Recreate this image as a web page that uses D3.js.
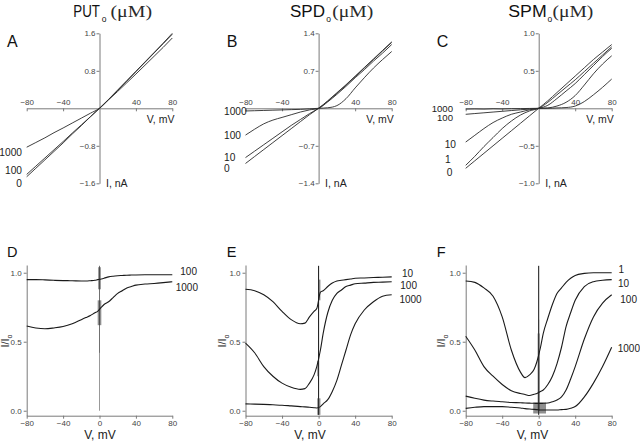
<!DOCTYPE html>
<html><head><meta charset="utf-8">
<script src="https://cdn.jsdelivr.net/npm/d3@7"></script>
<style>body{margin:0;background:#fff}svg{display:block}</style>
</head><body><svg id="c" width="640" height="442"></svg>
<script>
// ---------- DATA ----------
// I-V relations (top row), voltage in mV, current in nA
const V_IV = [-80,-70,-60,-50,-40,-30,-20,-10,0,10,20,30,40,50,60,70,80];
const PUT_0    = [-1.46,-1.28,-1.10,-0.92,-0.74,-0.55,-0.37,-0.18,0,0.19,0.39,0.59,0.79,0.99,1.19,1.39,1.60];
const PUT_100  = [-1.41,-1.235,-1.06,-0.885,-0.71,-0.53,-0.355,-0.18,0,0.19,0.385,0.58,0.78,0.98,1.18,1.38,1.58];
const PUT_1000 = [-0.83,-0.73,-0.63,-0.52,-0.42,-0.315,-0.21,-0.105,0,0.18,0.36,0.545,0.73,0.92,1.11,1.30,1.50];
const SPD_0    = [-1.03,-0.90,-0.77,-0.64,-0.51,-0.38,-0.25,-0.12,0,0.14,0.29,0.44,0.60,0.76,0.92,1.08,1.24];
const SPD_10   = [-0.92,-0.80,-0.68,-0.56,-0.44,-0.32,-0.21,-0.10,0,0.13,0.28,0.43,0.59,0.75,0.91,1.07,1.23];
const SPD_100  = [-0.50,-0.39,-0.29,-0.22,-0.17,-0.12,-0.07,-0.03,0,0.12,0.26,0.41,0.57,0.72,0.88,1.03,1.19];
const SPD_1000 = [-0.05,-0.045,-0.04,-0.035,-0.03,-0.025,-0.02,-0.01,0,0.01,0.05,0.18,0.38,0.57,0.75,0.91,1.06];
const SPM_0    = [-0.80,-0.70,-0.60,-0.50,-0.40,-0.30,-0.20,-0.10,0,0.10,0.21,0.32,0.43,0.54,0.65,0.75,0.85];
const SPM_1    = [-0.76,-0.64,-0.51,-0.39,-0.27,-0.17,-0.09,-0.035,0,0.08,0.18,0.28,0.38,0.49,0.60,0.71,0.82];
const SPM_10   = [-0.45,-0.36,-0.27,-0.19,-0.13,-0.08,-0.05,-0.02,0,0.04,0.13,0.23,0.33,0.45,0.57,0.69,0.80];
const SPM_100  = [-0.08,-0.07,-0.06,-0.05,-0.04,-0.03,-0.02,-0.01,0,0.005,0.03,0.08,0.17,0.31,0.46,0.59,0.70];
const SPM_1000 = [-0.01,-0.008,-0.01,-0.006,-0.008,-0.005,-0.004,-0.002,0,0,0.005,0.01,0.03,0.09,0.18,0.28,0.39];
const IV_YMAX = [1.6, 1.4, 1.0];

// Fractional current I/Io (bottom row)
const V_FR = [-80,-70,-60,-50,-40,-30,-20,-15,-10,-5,-2,2,5,10,15,20,25,30,35,40,50,60,70,80];
const PUT_R100  = [.95,.95,.948,.945,.943,.942,.94,.94,.942,.945,.95,.955,.96,.97,.975,.978,.98,.982,.983,.984,.985,.985,.985,.985];
const PUT_R1000 = [.614,.60,.594,.60,.61,.63,.66,.675,.69,.71,.72,.75,.77,.79,.82,.85,.87,.89,.90,.91,.918,.922,.928,.935];
const SPD_R10   = [.88,.87,.84,.79,.72,.66,.63,.635,.68,.72,.74,.86,.87,.90,.925,.94,.945,.95,.955,.96,.962,.965,.967,.97];
const SPD_R100  = [.49,.42,.32,.25,.20,.17,.155,.16,.20,.26,.32,.44,.56,.71,.80,.85,.875,.90,.91,.92,.925,.93,.932,.935];
const SPD_R1000 = [.05,.048,.046,.043,.04,.035,.03,.028,.025,.022,.02,.03,.05,.08,.14,.22,.33,.44,.55,.63,.73,.79,.83,.84];
const SPM_R1    = [.94,.93,.89,.83,.68,.44,.28,.24,.26,.30,.355,.46,.56,.67,.77,.85,.89,.93,.96,.98,.995,1.0,1.0,1.0];
const SPM_R10   = [.54,.44,.32,.25,.19,.145,.125,.118,.11,.12,.125,.14,.15,.19,.25,.34,.46,.61,.71,.80,.90,.935,.945,.95];
const SPM_R100  = [.106,.09,.077,.07,.065,.06,.058,.056,.055,.054,.053,.053,.054,.056,.065,.077,.10,.15,.23,.32,.52,.68,.78,.84];
const SPM_R1000 = [.017,.025,.03,.03,.03,.025,.02,.015,.012,.01,.008,.005,.005,.005,.005,.005,.008,.01,.018,.03,.10,.20,.32,.46];

// Noise bursts near 0 mV per bottom panel: [vFrom, vTo, lo, hi] (I/Io)
const NOISE_D = [[-1.5,1.5,0.88,1.04],[-2,2,0.62,0.8],[-0.4,0.4,0.42,1.05]];
const NOISE_E = [[-0.5,2,0.80,0.95],[-1.5,0.5,0.25,0.36],[-1.5,2,-0.03,0.09]];
const NOISE_F = [[-1.2,1.2,0.0,0.56],[-0.5,0.5,0.56,0.66],[-6,8,-0.02,0.06]];
const SPIKE_RANGE = [[0.0,1.05],[-0.03,1.05],[-0.03,1.05]];

const TITLES = ["PUT","SPD","SPM"];
const CONC_TOP = [["0","100","1000"],["0","10","100","1000"],["0","1","10","100","1000"]];
const CONC_BOT = [["100","1000"],["10","100","1000"],["1","10","100","1000"]];
const LETTERS = ["A","B","C","D","E","F"];
const X_TICKS_TOP = [-80,-40,40,80];
const X_TICKS_BOT = [-80,-40,0,40,80];
const Y_TICKS_BOT = [0,0.5,1.0];

// ---------- LAYOUT ----------
const svg = d3.select("#c");
const XR = [[26.7,172.3],[245.5,391.7],[465.7,611.7]];
const titleLayout = [
  {s:[73.3,26.7], o:101.8, m:[110.5,41.5]},
  {s:[290,35], o:326.3, m:[332.2,41]},
  {s:[508.3,38.4], o:547.5, m:[552.5,40.8]}];
const letterX = [7,226.7,436.7];
const topLbl = [
  [[22,187,"end"],[22,174,"end"],[22,156,"end"]],
  [[224,171.7,"start"],[224,160.7,"start"],[224,139,"start"],[224,115,"start"]],
  [[452.3,176,"end"],[450.7,162.7,"end"],[456,148.3,"end"],[453,120.5,"end"],[453,112.3,"end"]]];
const botLbl = [
  [[197,275],[198,290.7]],
  [[413,277],[417,289],[421.7,303]],
  [[624,273],[629,286.7],[637,302.7],[640,351.7]]];
const vLblX = [100,310,532.5];
const yLblX = [9,226,445];

const lineCol = "#2a2a2a", axCol = "#7a7a7a";
const txtFont = "Liberation Sans, Arial, sans-serif";

// ---------- TOP ROW ----------
const topSeries = [[PUT_0,PUT_100,PUT_1000],[SPD_0,SPD_10,SPD_100,SPD_1000],[SPM_0,SPM_1,SPM_10,SPM_100,SPM_1000]];
topSeries.forEach((series,i)=>{
  const x = d3.scaleLinear().domain([-80,80]).range(XR[i]);
  const ym = IV_YMAX[i];
  const y = d3.scaleLinear().domain([-ym,ym]).range([183.3,33.3]);
  const g = svg.append("g");
  const ya = g.append("g").attr("transform",`translate(${x(0)},0)`)
    .call(d3.axisLeft(y).tickValues([ym,ym/2,-ym/2,-ym]).tickSize(3).tickSizeOuter(0).tickFormat(d3.format(".1f")));
  const xa = g.append("g").attr("transform",`translate(0,${y(0)})`)
    .call(d3.axisBottom(x).tickValues(X_TICKS_TOP).tickSize(3).tickSizeOuter(0).tickFormat(d3.format("d")));
  [ya,xa].forEach(a=>{
    a.select(".domain").attr("stroke",axCol).attr("stroke-width",1);
    a.selectAll(".tick line").attr("stroke",axCol);
    a.selectAll("text").attr("fill","#444").attr("font-size",8).attr("font-family",txtFont);
  });
  ya.selectAll("text").attr("x",-4);
  xa.selectAll("text").attr("y",-3).attr("dy",0);
  const line = d3.line().x((d,k)=>x(V_IV[k])).y(d=>y(d)).curve(d3.curveMonotoneX);
  series.forEach(s=>g.append("path").attr("d",line(s)).attr("fill","none")
    .attr("stroke",lineCol).attr("stroke-width",0.9));
  g.append("text").attr("x",XR[i][1]-25.5).attr("y",123.2).text("V, mV")
    .attr("font-size",10.5).attr("font-family",txtFont).attr("fill","#222");
  g.append("text").attr("x",x(0)+6.5).attr("y",187).text("I, nA")
    .attr("font-size",10.5).attr("font-family",txtFont).attr("fill","#222");
  CONC_TOP[i].forEach((c,k)=>{
    const L = topLbl[i][k];
    g.append("text").attr("x",L[0]).attr("y",L[1]).attr("text-anchor",L[2]).text(c)
      .attr("font-size",i===2 && k>=3 ? 9.6 : 10.2).attr("font-family",txtFont).attr("fill","#222");
  });
  const T = titleLayout[i];
  svg.append("text").attr("x",T.s[0]).attr("y",16.7).text(TITLES[i])
    .attr("font-size",16).attr("font-family",txtFont).attr("fill","#111")
    .attr("textLength",T.s[1]).attr("lengthAdjust","spacingAndGlyphs");
  svg.append("text").attr("x",T.o).attr("y",22.3).text("o")
    .attr("font-size",8.5).attr("font-family",txtFont).attr("fill","#111");
  svg.append("text").attr("x",T.m[0]).attr("y",16.7).text("(\u03BCM)")
    .attr("font-size",16).attr("font-weight","normal")
    .attr("font-family","Liberation Serif, Times New Roman, serif").attr("fill","#2a2a2a")
    .attr("textLength",T.m[1]).attr("lengthAdjust","spacingAndGlyphs");
  svg.append("text").attr("x",letterX[i]).attr("y",47.3).text(LETTERS[i])
    .attr("font-size",16).attr("font-family",txtFont).attr("fill","#111");
});

// ---------- BOTTOM ROW ----------
const botSeries = [[PUT_R100,PUT_R1000],[SPD_R10,SPD_R100,SPD_R1000],[SPM_R1,SPM_R10,SPM_R100,SPM_R1000]];
const noise = [NOISE_D,NOISE_E,NOISE_F];
botSeries.forEach((series,i)=>{
  const x = d3.scaleLinear().domain([-80,80]).range(XR[i]);
  const y = d3.scaleLinear().domain([-0.036,1.056]).range([415.7,265]);
  const g = svg.append("g");
  const ya = g.append("g").attr("transform",`translate(${XR[i][0]},0)`)
    .call(d3.axisLeft(y).tickValues(Y_TICKS_BOT).tickSize(3).tickSizeOuter(0).tickFormat(d3.format(".1f")));
  const xa = g.append("g").attr("transform",`translate(0,415.7)`)
    .call(d3.axisBottom(x).tickValues(X_TICKS_BOT).tickSize(3).tickSizeOuter(0).tickFormat(d3.format("d")));
  [ya,xa].forEach(a=>{
    a.select(".domain").attr("stroke",axCol).attr("stroke-width",1);
    a.selectAll(".tick line").attr("stroke",axCol);
    a.selectAll("text").attr("fill","#444").attr("font-size",8).attr("font-family",txtFont);
  });
  ya.selectAll("text").attr("x",-5);
  xa.selectAll("text").attr("y",5).attr("dy","0.71em");
  const sp = SPIKE_RANGE[i];
  g.append("line").attr("x1",x(0)).attr("x2",x(0)).attr("y1",y(sp[0])).attr("y2",y(sp[1]))
    .attr("stroke", i===0 ? "#999" : "#111").attr("stroke-width",1);
  noise[i].forEach(n=>g.append("rect").attr("x",x(n[0])).attr("width",x(n[1])-x(n[0]))
    .attr("y",y(n[3])).attr("height",y(n[2])-y(n[3])).attr("fill","#333").attr("opacity",0.55));
  const line = d3.line().x((d,k)=>x(V_FR[k])).y(d=>y(d)).curve(d3.curveMonotoneX);
  series.forEach(s=>g.append("path").attr("d",line(s)).attr("fill","none")
    .attr("stroke","#1a1a1a").attr("stroke-width",1.1));
  CONC_BOT[i].forEach((c,k)=>{
    const L = botLbl[i][k];
    g.append("text").attr("x",L[0]).attr("y",L[1]).attr("text-anchor","end").text(c)
      .attr("font-size",10).attr("font-family",txtFont).attr("fill","#222");
  });
  g.append("text").attr("x",vLblX[i]).attr("y",439).attr("text-anchor","middle").text("V, mV")
    .attr("font-size",12).attr("font-family",txtFont).attr("fill","#222");
  const yl = g.append("text").attr("transform",`translate(${yLblX[i]},341) rotate(-90)`)
    .attr("text-anchor","middle").attr("font-size",11).attr("font-family",txtFont).attr("fill","#222");
  yl.append("tspan").text("I/I");
  yl.append("tspan").attr("font-size",7).attr("dy",3).text("o");
  svg.append("text").attr("x",letterX[i]).attr("y",257).text(LETTERS[i+3])
    .attr("font-size",14.5).attr("font-family",txtFont).attr("fill","#111");
});
</script></body></html>
